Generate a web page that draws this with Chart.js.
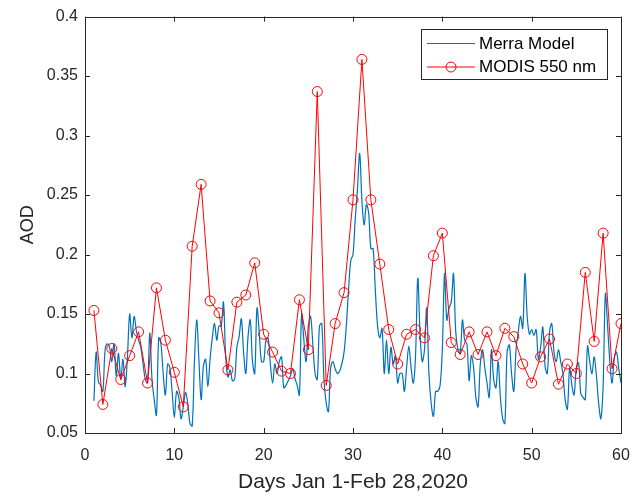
<!DOCTYPE html>
<html>
<head>
<meta charset="utf-8">
<script src="https://cdn.jsdelivr.net/npm/chart.js@4.4.1/dist/chart.umd.min.js"></script>
<style>
  html, body { margin: 0; padding: 0; background: #fff; }
  #wrap { width: 632px; height: 495px; position: relative; }
</style>
</head>
<body>
<div id="wrap"><canvas id="c"></canvas></div>
<script>
// ── DATA ─────────────────────────────────────────────────────
var modisDays = [1,2,3,4,5,6,7,8,9,10,11,12,13,14,15,16,17,18,19,20,
                 21,22,23,24,25,26,27,28,29,30,31,32,33,34,35,36,37,38,39,40,
                 41,42,43,44,45,46,47,48,49,50,51,52,53,54,55,56,57,58,59,60];
var modisAod = [0.153,0.074,0.121,0.095,0.115,0.135,0.092,0.172,0.128,0.101,
                0.072,0.207,0.259,0.161,0.151,0.103,0.160,0.166,0.193,0.133,
                0.118,0.102,0.100,0.162,0.120,0.337,0.090,0.142,0.168,0.246,
                0.364,0.246,0.192,0.137,0.108,0.133,0.137,0.130,0.199,0.218,
                0.126,0.116,0.135,0.116,0.135,0.115,0.138,0.131,0.108,0.092,
                0.114,0.129,0.091,0.108,0.100,0.185,0.127,0.218,0.104,0.142];

// Merra model, one value every quarter day from day 1 to day 60
var merraStart = 1;
var merraStep = 0.25;
var merraAod = [
  0.077,0.118,0.093,0.090,  0.085,0.120,0.125,0.122,  0.110,0.125,0.098,0.117,
  0.095,0.112,0.089,0.114,  0.150,0.130,0.148,0.136,  0.128,0.122,0.108,0.095,
  0.092,0.134,0.095,0.078,  0.065,0.130,0.125,0.100,  0.082,0.108,0.105,0.085,
  0.063,0.085,0.080,0.062,  0.072,0.084,0.075,0.058,  0.056,0.110,0.145,0.112,
  0.078,0.106,0.112,0.089,  0.112,0.130,0.142,0.128,  0.140,0.140,0.160,0.114,
  0.097,0.103,0.094,0.095,  0.122,0.131,0.146,0.118,  0.100,0.131,0.145,0.110,
  0.100,0.155,0.135,0.110,  0.110,0.128,0.130,0.108,  0.092,0.108,0.100,0.110,
  0.114,0.088,0.090,0.094,  0.098,0.104,0.096,0.090,  0.082,0.150,0.128,0.110,
  0.140,0.148,0.125,0.100,  0.095,0.140,0.142,0.095,  0.075,0.068,0.105,0.110,
  0.104,0.100,0.102,0.108,  0.118,0.140,0.170,0.195,  0.200,0.230,0.255,0.285,
  0.245,0.225,0.242,0.235,  0.205,0.205,0.170,0.140,  0.130,0.138,0.100,0.128,
  0.100,0.122,0.108,0.115,  0.092,0.100,0.100,0.085,  0.105,0.123,0.105,0.092,
  0.115,0.180,0.135,0.110,  0.120,0.155,0.100,0.075,  0.064,0.085,0.085,0.090,
  0.120,0.184,0.145,0.155,  0.160,0.184,0.135,0.120,  0.117,0.145,0.128,0.125,
  0.094,0.115,0.105,0.080,  0.072,0.108,0.120,0.105,  0.092,0.080,0.120,0.095,
  0.088,0.110,0.080,0.062,  0.058,0.118,0.124,0.100,  0.085,0.120,0.135,0.148,
  0.138,0.184,0.148,0.133,  0.137,0.132,0.137,0.112,  0.122,0.139,0.106,0.100,
  0.135,0.142,0.118,0.110,  0.120,0.110,0.100,0.078,  0.070,0.105,0.090,0.082,
  0.105,0.109,0.083,0.080,  0.078,0.123,0.110,0.100,  0.114,0.098,0.075,0.062,
  0.090,0.167,0.140,0.110,  0.092,0.113,0.118,0.104,  0.092
];

var xTicks = [0,10,20,30,40,50,60];
var yTicks = [0.05,0.1,0.15,0.2,0.25,0.3,0.35,0.4];
var labels = ["Merra Model", "MODIS 550 nm"];
var xTitle = "Days Jan 1-Feb 28,2020";
var yTitle = "AOD";

// ── STYLE ────────────────────────────────────────────────────
var FONT = "'Liberation Sans', Arial, Helvetica, sans-serif";
var AXIS = "#262626";
var BLUE = "#0072BD";
var RED  = "#FF0000";

var merraPts = merraAod.map(function(v, i) { return { x: merraStart + i * merraStep, y: v }; });
var modisPts = modisAod.map(function(v, i) { return { x: modisDays[i], y: v }; });

// box round the axes, ticks pointing inward, legend in the top right
var boxPlugin = {
  id: "box",
  afterDatasetsDraw: function(chart) {
    var ctx = chart.ctx, a = chart.chartArea, xs = chart.scales.x, ys = chart.scales.y;
    ctx.save();
    ctx.strokeStyle = AXIS;
    ctx.lineWidth = 1;
    ctx.beginPath();
    xTicks.forEach(function(v) {
      var px = Math.round(xs.getPixelForValue(v)) + 0.5;
      ctx.moveTo(px, a.bottom); ctx.lineTo(px, a.bottom - 5);
      ctx.moveTo(px, a.top);    ctx.lineTo(px, a.top + 5);
    });
    yTicks.forEach(function(v) {
      var py = Math.round(ys.getPixelForValue(v)) + 0.5;
      ctx.moveTo(a.left, py);  ctx.lineTo(a.left + 5, py);
      ctx.moveTo(a.right, py); ctx.lineTo(a.right - 5, py);
    });
    ctx.stroke();
    ctx.strokeRect(Math.round(a.left) + 0.5, Math.round(a.top) + 0.5,
                   Math.round(a.right - a.left), Math.round(a.bottom - a.top));

    // legend
    var lx = 421.5, ly = 29.5, lw = 186, lh = 50;
    ctx.fillStyle = "#fff";
    ctx.fillRect(lx, ly, lw, lh);
    ctx.strokeStyle = AXIS;
    ctx.lineWidth = 1;
    ctx.strokeRect(lx, ly, lw, lh);

    ctx.lineWidth = 1.2;
    ctx.strokeStyle = BLUE;
    ctx.beginPath(); ctx.moveTo(427, 43.5); ctx.lineTo(475, 43.5); ctx.stroke();
    ctx.strokeStyle = RED;
    ctx.lineWidth = 1;
    ctx.beginPath(); ctx.moveTo(427, 67); ctx.lineTo(475, 67); ctx.stroke();
    ctx.beginPath(); ctx.arc(451, 67, 5, 0, Math.PI * 2); ctx.stroke();

    ctx.fillStyle = "#000";
    ctx.font = "17px " + FONT;
    ctx.textBaseline = "middle";
    ctx.textAlign = "left";
    ctx.fillText(labels[0], 479, 44);
    ctx.fillText(labels[1], 479, 67.5);
    ctx.restore();
  }
};

function tickFont() { return { family: FONT, size: 16 }; }

new Chart(document.getElementById("c").getContext("2d"), {
  type: "line",
  data: {
    datasets: [
      {
        label: labels[0],
        data: merraPts,
        borderColor: BLUE,
        borderWidth: 1.2,
        pointRadius: 0,
        tension: 0.35,
        fill: false,
        order: 2
      },
      {
        label: labels[1],
        data: modisPts,
        borderColor: RED,
        borderWidth: 1,
        pointRadius: 5,
        pointBorderWidth: 1,
        pointBorderColor: RED,
        pointBackgroundColor: "rgba(0,0,0,0)",
        tension: 0,
        fill: false,
        order: 1
      }
    ]
  },
  options: {
    responsive: true,
    maintainAspectRatio: false,
    animation: false,
    devicePixelRatio: 1,
    layout: { padding: { left: 0, right: 11, top: 15, bottom: 0 } },
    plugins: { legend: { display: false }, tooltip: { enabled: false } },
    scales: {
      x: {
        type: "linear",
        min: 0, max: 60,
        grid: { display: false, drawTicks: false },
        border: { display: false },
        afterBuildTicks: function(s) { s.ticks = xTicks.map(function(v) { return { value: v }; }); },
        afterFit: function(s) { s.height = 62; s.paddingLeft = 0; s.paddingRight = 0; },
        ticks: { color: AXIS, font: tickFont(), padding: 13, maxRotation: 0,
                 callback: function(v) { return String(v); } },
        title: { display: true, text: xTitle, color: AXIS, font: { family: FONT, size: 21 },
                 padding: { top: 0, bottom: 0 } }
      },
      y: {
        type: "linear",
        min: 0.05, max: 0.4,
        grid: { display: false, drawTicks: false },
        border: { display: false },
        afterBuildTicks: function(s) { s.ticks = yTicks.map(function(v) { return { value: v }; }); },
        afterFit: function(s) { s.width = 85; },
        ticks: { color: AXIS, font: tickFont(), padding: 7,
                 callback: function(v) { return String(v); } },
        title: { display: true, text: yTitle, color: AXIS, font: { family: FONT, size: 18 },
                 padding: { top: 17, bottom: 0 } }
      }
    }
  },
  plugins: [boxPlugin]
});
</script>
</body>
</html>
